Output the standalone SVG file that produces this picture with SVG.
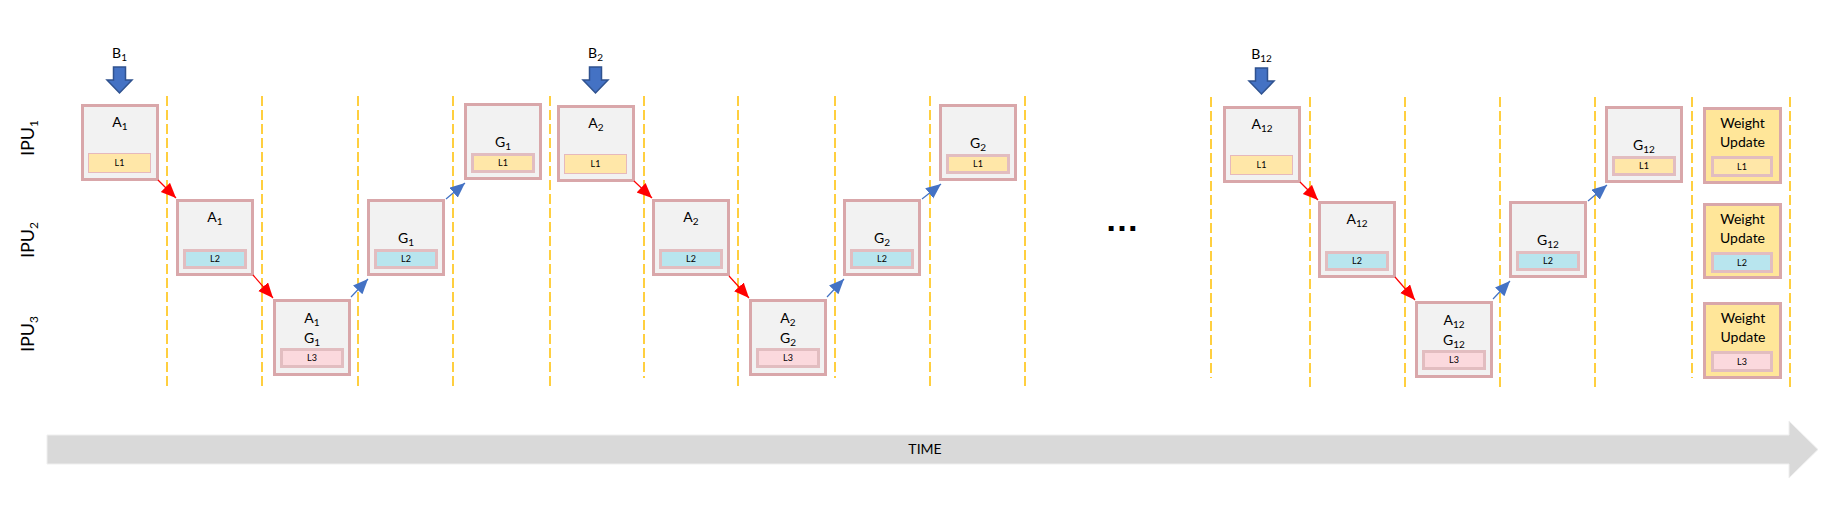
<svg xmlns="http://www.w3.org/2000/svg" width="1848" height="512" viewBox="0 0 1848 512">
<style>
.box{fill:#F2F2F2;stroke:#D9A7AA;stroke-width:3}
.wu{fill:#FFE699;stroke:#D9A7AA;stroke-width:3}
.l1{fill:#FFE7A8}
.l2{fill:#B8E5EE}
.l3{fill:#FBD9DD}
.thin{stroke:#E6B9BC;stroke-width:1}
.thick{stroke:#E2BDC0;stroke-width:3}
.t{font-family:Lato,"Liberation Sans",sans-serif;font-size:14px;fill:#000;text-anchor:middle}
.s{font-size:9px}
.sub{font-size:10px}
.ipu{font-family:Lato,"Liberation Sans",sans-serif;font-size:18px;fill:#000;text-anchor:middle}
.dash{stroke:#FFC000;stroke-width:1.5;stroke-dasharray:10 4;fill:none}
.red{stroke:#FF0000;stroke-width:1.2;marker-end:url(#ah-red);fill:none}
.blue{stroke:#4472C4;stroke-width:1.2;marker-end:url(#ah-blue);fill:none}
.barrow{fill:#4472C4;stroke:#2F528F;stroke-width:1.5}
</style>
<defs>
<marker id="ah-red" markerUnits="userSpaceOnUse" markerWidth="16" markerHeight="14" refX="15" refY="6.5" orient="auto">
<path d="M0,0 L15,6.5 L0,13 z" fill="#FF0000"/>
</marker>
<marker id="ah-blue" markerUnits="userSpaceOnUse" markerWidth="16" markerHeight="14" refX="15" refY="6.5" orient="auto">
<path d="M0,0 L15,6.5 L0,13 z" fill="#4472C4"/>
</marker>
</defs>
<rect width="1848" height="512" fill="#FFFFFF"/>

<g id="grid">
<line class="dash" x1="167" y1="96" x2="167" y2="387"/>
<line class="dash" x1="262" y1="96" x2="262" y2="387"/>
<line class="dash" x1="358" y1="96" x2="358" y2="387"/>
<line class="dash" x1="453" y1="96" x2="453" y2="387"/>
<line class="dash" x1="550" y1="96" x2="550" y2="387"/>
<line class="dash" x1="644" y1="96" x2="644" y2="378"/>
<line class="dash" x1="738" y1="96" x2="738" y2="387"/>
<line class="dash" x1="835" y1="96" x2="835" y2="378"/>
<line class="dash" x1="930" y1="96" x2="930" y2="387"/>
<line class="dash" x1="1025" y1="96" x2="1025" y2="387"/>
<line class="dash" x1="1211" y1="97" x2="1211" y2="378"/>
<line class="dash" x1="1310" y1="97" x2="1310" y2="387"/>
<line class="dash" x1="1405" y1="97" x2="1405" y2="387"/>
<line class="dash" x1="1500" y1="97" x2="1500" y2="387"/>
<line class="dash" x1="1595" y1="97" x2="1595" y2="387"/>
<line class="dash" x1="1692" y1="97" x2="1692" y2="378"/>
<line class="dash" x1="1790" y1="97" x2="1790" y2="387"/>
</g>

<g id="ipu-labels">
<text class="ipu" transform="translate(34,138) rotate(-90)">IPU<tspan font-size="12" dy="4">1</tspan></text>
<text class="ipu" transform="translate(34,240) rotate(-90)">IPU<tspan font-size="12" dy="4">2</tspan></text>
<text class="ipu" transform="translate(34,334) rotate(-90)">IPU<tspan font-size="12" dy="4">3</tspan></text>
</g>

<g id="input-b1">
<text class="t" x="119.5" y="58">B<tspan class="sub" dy="3">1</tspan></text>
<path class="barrow" d="M113.5,67 L125.5,67 L125.5,80 L132,80 L119.5,93 L107,80 L113.5,80 z"/>
</g>
<g id="input-b2">
<text class="t" x="595.5" y="58">B<tspan class="sub" dy="3">2</tspan></text>
<path class="barrow" d="M589.5,67 L601.5,67 L601.5,80 L608,80 L595.5,93 L583,80 L589.5,80 z"/>
</g>
<g id="input-b12">
<text class="t" x="1261.5" y="59">B<tspan class="sub" dy="3">12</tspan></text>
<path class="barrow" d="M1255.5,68 L1267.5,68 L1267.5,81 L1274,81 L1261.5,94 L1249,81 L1255.5,81 z"/>
</g>

<!-- Section 1 -->
<g id="a1-ipu1">
<rect class="box" x="82.5" y="105.5" width="75" height="74"/>
<rect class="l1 thin" x="88.5" y="153.5" width="62" height="19"/>
<text class="t" x="120" y="127">A<tspan class="sub" dy="3">1</tspan></text>
<text class="t s" x="119.5" y="166">L1</text>
</g>
<g id="a1-ipu2">
<rect class="box" x="177.5" y="200.5" width="75" height="74"/>
<rect class="l2 thick" x="184.5" y="250.5" width="61" height="17"/>
<text class="t" x="215" y="222">A<tspan class="sub" dy="3">1</tspan></text>
<text class="t s" x="215" y="262">L2</text>
</g>
<g id="ag1-ipu3">
<rect class="box" x="274.5" y="300.5" width="75" height="74"/>
<rect class="l3 thick" x="281.5" y="349.5" width="61" height="17"/>
<text class="t" x="312" y="323">A<tspan class="sub" dy="3">1</tspan></text>
<text class="t" x="312" y="343">G<tspan class="sub" dy="3">1</tspan></text>
<text class="t s" x="312" y="361">L3</text>
</g>
<g id="g1-ipu2">
<rect class="box" x="368.5" y="200.5" width="75" height="74"/>
<rect class="l2 thick" x="375.5" y="250.5" width="61" height="17"/>
<text class="t" x="406" y="243">G<tspan class="sub" dy="3">1</tspan></text>
<text class="t s" x="406" y="262">L2</text>
</g>
<g id="g1-ipu1">
<rect class="box" x="465.5" y="104.5" width="75" height="74"/>
<rect class="l1 thick" x="472.5" y="154.5" width="61" height="17"/>
<text class="t" x="503" y="147">G<tspan class="sub" dy="3">1</tspan></text>
<text class="t s" x="503" y="166">L1</text>
</g>

<!-- Section 2 -->
<g id="a2-ipu1">
<rect class="box" x="558.5" y="106.5" width="75" height="74"/>
<rect class="l1 thin" x="564.5" y="154.5" width="62" height="19"/>
<text class="t" x="596" y="128">A<tspan class="sub" dy="3">2</tspan></text>
<text class="t s" x="595.5" y="167">L1</text>
</g>
<g id="a2-ipu2">
<rect class="box" x="653.5" y="200.5" width="75" height="74"/>
<rect class="l2 thick" x="660.5" y="250.5" width="61" height="17"/>
<text class="t" x="691" y="222">A<tspan class="sub" dy="3">2</tspan></text>
<text class="t s" x="691" y="262">L2</text>
</g>
<g id="ag2-ipu3">
<rect class="box" x="750.5" y="300.5" width="75" height="74"/>
<rect class="l3 thick" x="757.5" y="349.5" width="61" height="17"/>
<text class="t" x="788" y="323">A<tspan class="sub" dy="3">2</tspan></text>
<text class="t" x="788" y="343">G<tspan class="sub" dy="3">2</tspan></text>
<text class="t s" x="788" y="361">L3</text>
</g>
<g id="g2-ipu2">
<rect class="box" x="844.5" y="200.5" width="75" height="74"/>
<rect class="l2 thick" x="851.5" y="250.5" width="61" height="17"/>
<text class="t" x="882" y="243">G<tspan class="sub" dy="3">2</tspan></text>
<text class="t s" x="882" y="262">L2</text>
</g>
<g id="g2-ipu1">
<rect class="box" x="940.5" y="105.5" width="75" height="74"/>
<rect class="l1 thick" x="947.5" y="155.5" width="61" height="17"/>
<text class="t" x="978" y="148">G<tspan class="sub" dy="3">2</tspan></text>
<text class="t s" x="978" y="167">L1</text>
</g>

<g id="ellipsis">
<text x="1122" y="231" font-family="'Liberation Sans',sans-serif" font-size="34" font-weight="bold" text-anchor="middle" fill="#000">…</text>
</g>

<!-- Section 3 -->
<g id="a12-ipu1">
<rect class="box" x="1224.5" y="107.5" width="75" height="74"/>
<rect class="l1 thin" x="1230.5" y="155.5" width="62" height="19"/>
<text class="t" x="1262" y="129">A<tspan class="sub" dy="3">12</tspan></text>
<text class="t s" x="1261.5" y="168">L1</text>
</g>
<g id="a12-ipu2">
<rect class="box" x="1319.5" y="202.5" width="75" height="74"/>
<rect class="l2 thick" x="1326.5" y="252.5" width="61" height="17"/>
<text class="t" x="1357" y="224">A<tspan class="sub" dy="3">12</tspan></text>
<text class="t s" x="1357" y="264">L2</text>
</g>
<g id="ag12-ipu3">
<rect class="box" x="1416.5" y="302.5" width="75" height="74"/>
<rect class="l3 thick" x="1423.5" y="351.5" width="61" height="17"/>
<text class="t" x="1454" y="325">A<tspan class="sub" dy="3">12</tspan></text>
<text class="t" x="1454" y="345">G<tspan class="sub" dy="3">12</tspan></text>
<text class="t s" x="1454" y="363">L3</text>
</g>
<g id="g12-ipu2">
<rect class="box" x="1510.5" y="202.5" width="75" height="74"/>
<rect class="l2 thick" x="1517.5" y="252.5" width="61" height="17"/>
<text class="t" x="1548" y="245">G<tspan class="sub" dy="3">12</tspan></text>
<text class="t s" x="1548" y="264">L2</text>
</g>
<g id="g12-ipu1">
<rect class="box" x="1606.5" y="107.5" width="75" height="74"/>
<rect class="l1 thick" x="1613.5" y="157.5" width="61" height="17"/>
<text class="t" x="1644" y="150">G<tspan class="sub" dy="3">12</tspan></text>
<text class="t s" x="1644" y="169">L1</text>
</g>

<g id="wu-ipu1">
<rect class="wu" x="1704.5" y="108.5" width="76" height="74"/>
<rect class="l1 thick" x="1712.5" y="157.5" width="59" height="18"/>
<text class="t" x="1742.5" y="128" font-size="15">Weight</text>
<text class="t" x="1742.5" y="147" font-size="15">Update</text>
<text class="t s" x="1742" y="170">L1</text>
</g>
<g id="wu-ipu2">
<rect class="wu" x="1704.5" y="204.5" width="76" height="73"/>
<rect class="l2 thick" x="1712.5" y="253.5" width="59" height="18"/>
<text class="t" x="1742.5" y="224" font-size="15">Weight</text>
<text class="t" x="1742.5" y="243" font-size="15">Update</text>
<text class="t s" x="1742" y="266">L2</text>
</g>
<g id="wu-ipu3">
<rect class="wu" x="1704.5" y="303.5" width="76" height="74"/>
<rect class="l3 thick" x="1712.5" y="352.5" width="59" height="18"/>
<text class="t" x="1743" y="323" font-size="15">Weight</text>
<text class="t" x="1743" y="342" font-size="15">Update</text>
<text class="t s" x="1742" y="365">L3</text>
</g>

<g id="connectors">
<line class="red" x1="158" y1="180" x2="176" y2="198"/>
<line class="red" x1="253" y1="275" x2="273" y2="298"/>
<line class="blue" x1="351" y1="297" x2="368" y2="279"/>
<line class="blue" x1="446" y1="199" x2="465" y2="183"/>
<line class="red" x1="634" y1="181" x2="652" y2="198"/>
<line class="red" x1="729" y1="276" x2="749" y2="298"/>
<line class="blue" x1="827" y1="297" x2="844" y2="279"/>
<line class="blue" x1="922" y1="199" x2="941" y2="184"/>
<line class="red" x1="1300" y1="182" x2="1318" y2="200"/>
<line class="red" x1="1395" y1="277" x2="1415" y2="300"/>
<line class="blue" x1="1493" y1="299" x2="1510" y2="281"/>
<line class="blue" x1="1588" y1="201" x2="1607" y2="185"/>
</g>

<g id="time-axis">
<polygon points="47,435 1789,435 1789,421 1818,449.5 1789,478 1789,464 47,464" fill="#D9D9D9" stroke="#EFEFEF" stroke-width="1"/>
<text x="925" y="454" font-family="Lato,'Liberation Sans',sans-serif" font-size="14" text-anchor="middle" fill="#000">TIME</text>
</g>
</svg>
